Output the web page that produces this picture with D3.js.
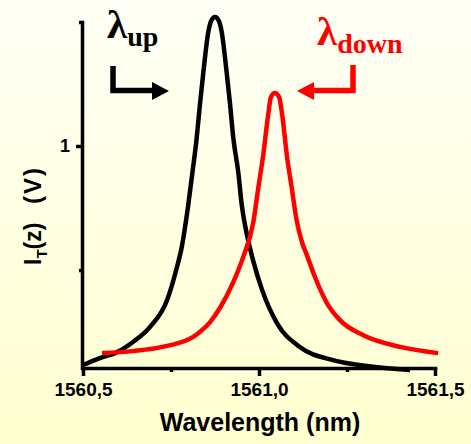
<!DOCTYPE html>
<html>
<head>
<meta charset="utf-8">
<script src="https://cdn.jsdelivr.net/npm/d3@7"></script>
<style>
  body { margin: 0; }
  svg { display: block; }
  .axis path, .axis line { stroke: #000; stroke-width: 3.5; }
  .axis text { font-family: "Liberation Sans", Arial, sans-serif; font-weight: bold; fill: #000; }
</style>
</head>
<body>
<div id="chart"></div>
<script>
// wavelength (nm) / intensity (V)
const upX = [1560.50, 1560.548, 1560.597, 1560.642, 1560.690, 1560.739, 1560.767, 1560.780, 1560.799, 1560.811,
  1560.823, 1560.832, 1560.842, 1560.856, 1560.864, 1560.875, 1560.886, 1560.894, 1560.908, 1560.918, 1560.927,
  1560.941, 1560.951, 1560.966, 1560.983, 1561.009, 1561.051, 1561.116, 1561.210, 1561.307, 1561.429];
const upY = [0.117, 0.145, 0.169, 0.210, 0.270, 0.379, 0.512, 0.589, 0.762, 0.895,
  1.032, 1.165, 1.298, 1.460, 1.504, 1.520, 1.504, 1.460, 1.298, 1.165, 1.032,
  0.895, 0.762, 0.641, 0.540, 0.419, 0.286, 0.190, 0.137, 0.113, 0.097];

const downX = [1560.554, 1560.642, 1560.739, 1560.813, 1560.832, 1560.861, 1560.889, 1560.926, 1560.955, 1560.984,
  1560.998, 1561.012, 1561.026, 1561.034, 1561.045, 1561.057, 1561.066, 1561.079, 1561.093, 1561.107, 1561.122,
  1561.136, 1561.159, 1561.193, 1561.230, 1561.295, 1561.401, 1561.509];
const downY = [0.165, 0.173, 0.194, 0.230, 0.250, 0.290, 0.347, 0.448, 0.552, 0.694,
  0.831, 0.964, 1.125, 1.198, 1.214, 1.198, 1.125, 0.964, 0.831, 0.700, 0.613,
  0.560, 0.472, 0.367, 0.298, 0.238, 0.190, 0.165];

const xMajor = [1560.5, 1561.0, 1561.5];
const xMinor = [1560.75, 1561.25];
const yMajor = [1];
const yMinor = [0.5, 1.5];

const width = 471, height = 444;

const svg = d3.select("#chart").append("svg")
  .attr("width", width)
  .attr("height", height);

const grad = svg.append("defs").append("linearGradient")
  .attr("id", "bg").attr("x1", 0).attr("y1", 0).attr("x2", 0).attr("y2", 1);
grad.append("stop").attr("offset", "0%").attr("stop-color", "#fffff6");
grad.append("stop").attr("offset", "100%").attr("stop-color", "#ffffcf");

svg.append("rect").attr("width", width).attr("height", height).attr("fill", "url(#bg)");

const x = d3.scaleLinear().domain([1560.5, 1561.5]).range([83, 435]);
const y = d3.scaleLinear().domain([0.105, 1.5]).range([368, 22]);

// x axis
const gx = svg.append("g").attr("class", "axis")
  .attr("transform", "translate(0,368)")
  .call(d3.axisBottom(x)
    .tickValues(xMajor.concat(xMinor))
    .tickSize(8)
    .tickSizeOuter(0)
    .tickPadding(7)
    .tickFormat(d => xMajor.includes(d) ? d3.format(".1f")(d).replace(".", ",") : ""));
gx.selectAll(".tick").filter(d => xMinor.includes(d)).select("line").attr("y2", 4);
gx.selectAll("text").style("font-size", "19px");
gx.select(".domain").attr("stroke-linecap", "square");

// y axis
const gy = svg.append("g").attr("class", "axis")
  .attr("transform", "translate(82,0)")
  .call(d3.axisLeft(y)
    .tickValues(yMajor.concat(yMinor))
    .tickSize(6)
    .tickSizeOuter(0)
    .tickPadding(6)
    .tickFormat(d => yMajor.includes(d) ? d3.format("d")(d) : ""));
gy.selectAll(".tick").filter(d => yMinor.includes(d)).select("line").attr("x2", -3);
gy.selectAll("text").style("font-size", "18px");
gy.select(".domain").attr("stroke-linecap", "square");

const line = d3.line()
  .x(d => x(d[0]))
  .y(d => y(d[1]))
  .curve(d3.curveMonotoneX);

svg.append("path")
  .datum(d3.zip(upX, upY))
  .attr("fill", "none")
  .attr("stroke", "#000")
  .attr("stroke-width", 4.5)
  .attr("d", line);

svg.append("path")
  .datum(d3.zip(downX, downY))
  .attr("fill", "none")
  .attr("stroke", "#ff0000")
  .attr("stroke-width", 4.5)
  .attr("d", line);

// lambda annotations
const serif = '"Liberation Serif", "Times New Roman", serif';
function lambda(xp, yp, sub, color) {
  const t = svg.append("text")
    .attr("x", xp).attr("y", yp)
    .attr("fill", color)
    .style("font-family", serif)
    .style("font-weight", "bold");
  t.append("tspan").style("font-size", "41px").text("λ");
  t.append("tspan").attr("dy", 8).style("font-size", "28px").text(sub);
}
lambda(107, 38, "up", "#000");
lambda(317, 45, "down", "#ff0000");

// arrows
svg.append("path")
  .attr("d", "M113,66V90.5H153")
  .attr("fill", "none").attr("stroke", "#000").attr("stroke-width", 5.5);
svg.append("path")
  .attr("d", "M152,82L169,91L152,100Z").attr("fill", "#000");

svg.append("path")
  .attr("d", "M353,65V90.5H312")
  .attr("fill", "none").attr("stroke", "#ff0000").attr("stroke-width", 5.5);
svg.append("path")
  .attr("d", "M314,82L297,91L314,100Z").attr("fill", "#ff0000");

// axis titles
const sans = '"Liberation Sans", Arial, sans-serif';
svg.append("text")
  .attr("x", 260).attr("y", 431)
  .attr("text-anchor", "middle")
  .style("font-family", sans).style("font-weight", "bold").style("font-size", "25px")
  .text("Wavelength (nm)");

const yl = svg.append("text")
  .attr("transform", "translate(41,265) rotate(-90)")
  .style("font-family", sans).style("font-weight", "bold").style("font-size", "23px");
yl.append("tspan").text("I");
yl.append("tspan").attr("dy", 6).style("font-size", "15px").text("T");
yl.append("tspan").attr("dy", -6).text("(z)");

svg.append("text")
  .attr("transform", "translate(41,185) rotate(-90)")
  .attr("text-anchor", "middle")
  .style("font-family", sans).style("font-weight", "bold").style("font-size", "24px")
  .style("letter-spacing", "2px")
  .text("(V)");
</script>
</body>
</html>
